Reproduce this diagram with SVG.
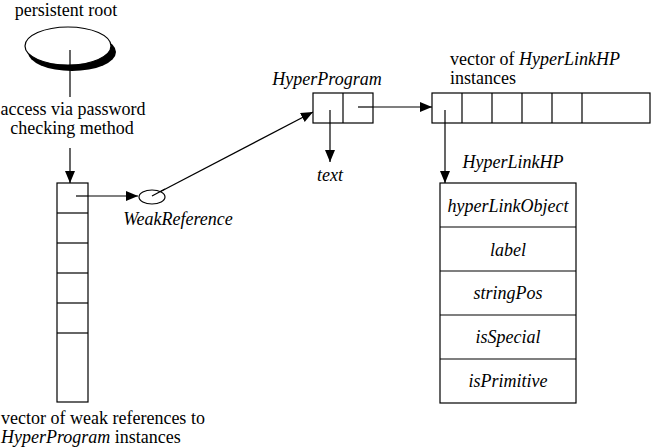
<svg xmlns="http://www.w3.org/2000/svg" width="654" height="448" viewBox="0 0 654 448">
<style>
text{font-family:"Liberation Serif","Times New Roman",serif;font-size:18px;fill:#000}
.i{font-style:italic}
.m{text-anchor:middle}
.b{fill:#fff;stroke:#000;stroke-width:1.2}
.l{stroke:#000;stroke-width:1.2;fill:none}
</style>
<defs>
<marker id="ah" viewBox="0 0 12 10" refX="12" refY="5" markerWidth="12" markerHeight="10" markerUnits="userSpaceOnUse" orient="auto">
<path d="M0,0 L12,5 L0,10 Z" fill="#000"/>
</marker>
</defs>
<rect width="654" height="448" fill="#fff"/>
<g id="connectors">
<line class="l" x1="70" y1="50" x2="70" y2="97"/>
<line class="l" x1="70" y1="148" x2="70" y2="183" marker-end="url(#ah)"/>
<line class="l" x1="76" y1="196" x2="138" y2="196" marker-end="url(#ah)"/>
<line class="l" x1="152" y1="196" x2="313" y2="112" marker-end="url(#ah)"/>
<line class="l" x1="330" y1="110" x2="330" y2="162" marker-end="url(#ah)"/>
<line class="l" x1="358" y1="107" x2="432" y2="107" marker-end="url(#ah)"/>
<line class="l" x1="445" y1="110" x2="445" y2="183" marker-end="url(#ah)"/>
</g>
<g id="persistent-root">
<text class="m" x="66" y="16">persistent root</text>
<ellipse cx="72" cy="52" rx="44" ry="19" fill="#000"/>
<ellipse class="b" cx="68" cy="46" rx="43" ry="19"/>
<line class="l" x1="70" y1="50" x2="70" y2="70"/>
</g>
<g id="access-label">
<text class="m" x="73" y="115">access via password</text>
<text class="m" x="72" y="134">checking method</text>
</g>
<g id="weak-vector">
<rect class="b" x="57" y="183" width="31" height="219"/>
<line class="l" x1="57" y1="213" x2="88" y2="213"/>
<line class="l" x1="57" y1="243" x2="88" y2="243"/>
<line class="l" x1="57" y1="273" x2="88" y2="273"/>
<line class="l" x1="57" y1="303" x2="88" y2="303"/>
<line class="l" x1="57" y1="333" x2="88" y2="333"/>
<line class="l" x1="76" y1="196" x2="88" y2="196"/>
<text x="1" y="424">vector of weak references to</text>
<text x="1" y="443"><tspan class="i">HyperProgram</tspan> instances</text>
</g>
<g id="weak-reference">
<ellipse class="b" cx="152" cy="197" rx="13" ry="7"/>
<line class="l" x1="152" y1="196" x2="165" y2="189"/>
<text class="i m" x="178" y="225">WeakReference</text>
</g>
<g id="hyperprogram">
<text class="i m" x="327" y="85">HyperProgram</text>
<rect class="b" x="313" y="93" width="60" height="30"/>
<line class="l" x1="343" y1="93" x2="343" y2="123"/>
<line class="l" x1="358" y1="107" x2="373" y2="107"/>
<line class="l" x1="330" y1="110" x2="330" y2="123"/>
<text class="i m" x="330" y="181">text</text>
</g>
<g id="hyperlink-vector">
<text x="450" y="65">vector of  <tspan class="i">HyperLinkHP</tspan></text>
<text x="450" y="84">instances</text>
<rect class="b" x="432" y="93" width="218" height="30"/>
<line class="l" x1="462" y1="93" x2="462" y2="123"/>
<line class="l" x1="492" y1="93" x2="492" y2="123"/>
<line class="l" x1="522" y1="93" x2="522" y2="123"/>
<line class="l" x1="552" y1="93" x2="552" y2="123"/>
<line class="l" x1="582" y1="93" x2="582" y2="123"/>
<line class="l" x1="445" y1="110" x2="445" y2="123"/>
</g>
<g id="hyperlinkhp">
<text class="i m" x="513" y="168">HyperLinkHP</text>
<rect class="b" x="440" y="183" width="136" height="220"/>
<line class="l" x1="440" y1="227" x2="576" y2="227"/>
<line class="l" x1="440" y1="271" x2="576" y2="271"/>
<line class="l" x1="440" y1="315" x2="576" y2="315"/>
<line class="l" x1="440" y1="359" x2="576" y2="359"/>
<text class="i m" x="508" y="212">hyperLinkObject</text>
<text class="i m" x="508" y="256">label</text>
<text class="i m" x="508" y="299">stringPos</text>
<text class="i m" x="508" y="343">isSpecial</text>
<text class="i m" x="508" y="387">isPrimitive</text>
</g>
</svg>
